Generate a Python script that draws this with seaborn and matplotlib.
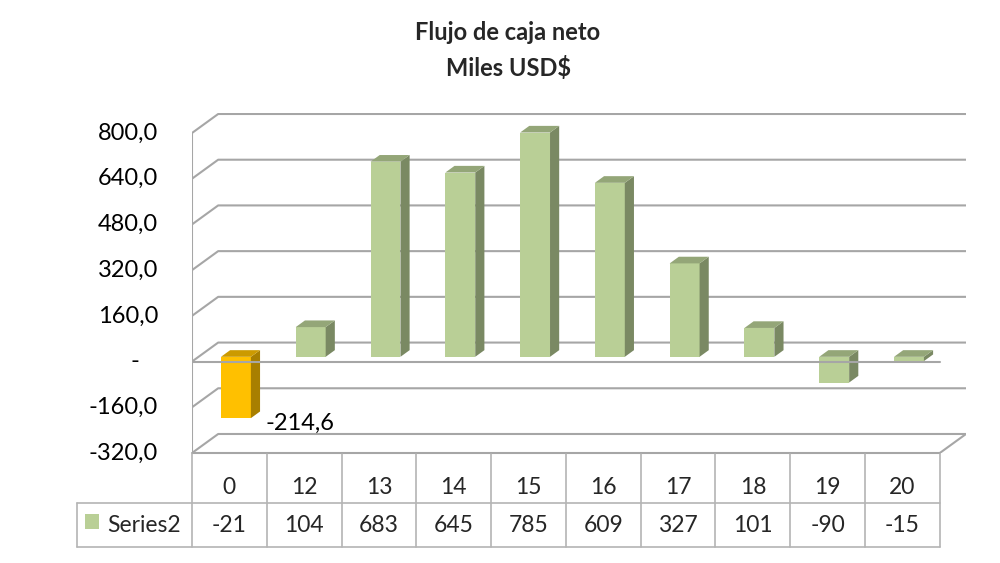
import numpy as np
import pandas as pd
import matplotlib
matplotlib.use("Agg")
import matplotlib.pyplot as plt
import seaborn as sns
from matplotlib.patches import Polygon, Rectangle
from matplotlib.transforms import blended_transform_factory
from matplotlib.colors import to_rgb

# data
periods = ["0", "12", "13", "14", "15", "16", "17", "18", "19", "20"]
flujo = [-214.6, 104, 683, 645, 785, 609, 327, 101, -90, -15]
table_values = ["-21", "104", "683", "645", "785", "609", "327", "101", "-90", "-15"]
y_ticks = [-320, -160, 0, 160, 320, 480, 640, 800]
y_tick_labels = ["-320,0", "-160,0", "-   ", "160,0", "320,0", "480,0", "640,0", "800,0"]
series_name = "Series2"

# style
yellow = "#FFC000"
green = "#B9CF96"
grid_col = "#A6A6A6"
table_col = "#B4B4B4"
DX, DY = 0.35, 66.5      # depth of the 3d box (x in categories, y in values)
F0, F1 = 0.25, 0.60      # front / back of the bars inside the box

sns.set_theme(style="white")
plt.rcParams["font.family"] = ["Lato", "DejaVu Sans"]

fig = plt.figure(figsize=(10, 5.63), dpi=100)
ax = fig.add_axes([0.192, 0.1954, 0.774, 0.6039])

df = pd.DataFrame({"periodo": periods, "flujo": flujo})
colors = [yellow] + [green] * (len(periods) - 1)
sns.barplot(data=df, x="periodo", y="flujo", hue="periodo", palette=colors,
            legend=False, width=0.4, saturation=1, ax=ax, zorder=3,
            linewidth=0, edgecolor="none")

ax.set_xlim(-0.5, 9.85)
ax.set_ylim(-320, 870)
ax.axis("off")

# walls and gridlines
for t in y_ticks:
    ax.plot([-0.5, -0.5 + DX, 9.5 + DX], [t, t + DY, t + DY], color=grid_col, lw=1.5, zorder=1)
ax.plot([-0.5, -0.5], [-320, 800], color=grid_col, lw=1.5, zorder=1)
ax.plot([9.5, 9.5 + DX], [-320, -320 + DY], color=grid_col, lw=1.5, zorder=1)
ax.plot([-0.5, 9.5], [-320, -320], color=grid_col, lw=1.5, zorder=1, clip_on=False)

# turn the flat bars into boxes
ddx, ddy = (F1 - F0) * DX, (F1 - F0) * DY
for p in list(ax.patches):
    x0, w = p.get_x(), p.get_width()
    y0, h = p.get_y(), p.get_height()
    bot, top = min(y0, y0 + h), max(y0, y0 + h)
    xl = x0 + F0 * DX
    xr = xl + w
    bot += F0 * DY
    top += F0 * DY
    p.set_x(xl)
    p.set_y(y0 + F0 * DY)
    base = np.array(to_rgb(p.get_facecolor()))
    side = Polygon([(xr, bot), (xr + ddx, bot + ddy), (xr + ddx, top + ddy), (xr, top)],
                   closed=True, facecolor=base * 0.66, edgecolor="none", zorder=3)
    lid = Polygon([(xl, top), (xr, top), (xr + ddx, top + ddy), (xl + ddx, top + ddy)],
                  closed=True, facecolor=base * 0.8, edgecolor="none", zorder=3)
    ax.add_patch(side)
    ax.add_patch(lid)

# zero line in front
ax.plot([-0.5, 9.5], [0, 0], color=grid_col, lw=1.5, zorder=4)

# data label of the first bar
ax.text(0.48, flujo[0], f"{flujo[0]:.1f}".replace(".", ","), ha="left", va="center",
        fontsize=17, color="black", zorder=5)

# y tick labels
for t, lab in zip(y_ticks, y_tick_labels):
    ax.text(-0.955, t, lab, ha="right", va="center", fontsize=17, color="black", clip_on=False)

# data table
tr = blended_transform_factory(ax.transData, fig.transFigure)
y_top, y_mid, y_bot = 1 - 454 / 563, 1 - 503 / 563, 1 - 547 / 563
x_left = -2.04
for k in range(len(periods) + 1):
    ax.plot([k - 0.5, k - 0.5], [y_top, y_bot], color=table_col, lw=1.2, transform=tr, clip_on=False)
ax.plot([x_left, x_left], [y_mid, y_bot], color=table_col, lw=1.2, transform=tr, clip_on=False)
ax.plot([x_left, 9.5], [y_mid, y_mid], color=table_col, lw=1.2, transform=tr, clip_on=False)
ax.plot([x_left, 9.5], [y_bot, y_bot], color=table_col, lw=1.2, transform=tr, clip_on=False)
for i, (per, val) in enumerate(zip(periods, table_values)):
    ax.text(i, 1 - 488 / 563, per, ha="center", va="center", fontsize=16.5, transform=tr)
    ax.text(i, 1 - 525 / 563, val, ha="center", va="center", fontsize=16.5, transform=tr)
ax.add_patch(Rectangle((-1.93, 1 - 529 / 563), 0.19, 15 / 563, facecolor=green,
                       edgecolor="none", transform=tr, clip_on=False))
ax.text(-1.636, 1 - 525 / 563, series_name, ha="left", va="center", fontsize=16.5, transform=tr)

# title
fig.text(0.508, 1 - 33 / 563, "Flujo de caja neto", ha="center", va="center",
         fontsize=17, fontweight="bold")
fig.text(0.508, 1 - 68 / 563, "Miles USD\\$", ha="center", va="center",
         fontsize=17, fontweight="bold")

fig.savefig("out.png", dpi=100)
